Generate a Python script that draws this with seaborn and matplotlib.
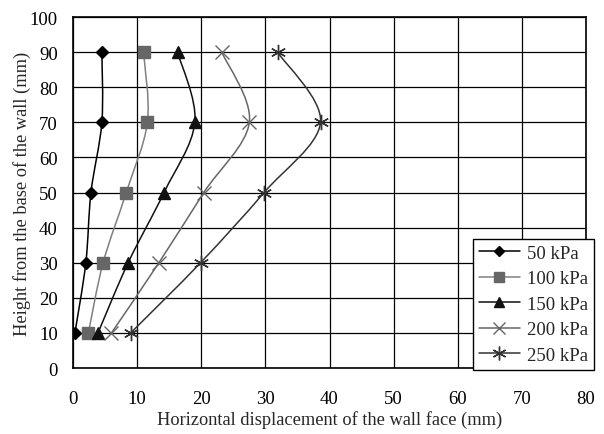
import numpy as np
import pandas as pd
import matplotlib
matplotlib.use("Agg")
import matplotlib.pyplot as plt
from matplotlib.path import Path
from matplotlib.patches import PathPatch
import seaborn as sns

heights = [10, 30, 50, 70, 90]
disp_50 = [0.3, 2.0, 2.8, 4.5, 4.5]
disp_100 = [2.4, 4.7, 8.3, 11.6, 11.0]
disp_150 = [3.9, 8.6, 14.2, 19.0, 16.3]
disp_200 = [6.0, 13.4, 20.4, 27.5, 23.2]
disp_250 = [9.0, 19.9, 29.8, 38.6, 31.9]
labels = ["50 kPa", "100 kPa", "150 kPa", "200 kPa", "250 kPa"]

rows = []
for lab, vals in zip(labels, [disp_50, disp_100, disp_150, disp_200, disp_250]):
    for h, d in zip(heights, vals):
        rows.append({"load": lab, "disp": d, "height": h})
df = pd.DataFrame(rows)

sns.set_theme(style="white")
plt.rcParams["font.family"] = ["Liberation Serif", "DejaVu Serif"]

line_colors = {"50 kPa": "#000000", "100 kPa": "#808080", "150 kPa": "#111111",
               "200 kPa": "#666666", "250 kPa": "#333333"}
marker_colors = {"50 kPa": "#000000", "100 kPa": "#666666", "150 kPa": "#111111",
                 "200 kPa": "#666666", "250 kPa": "#333333"}
markers = {"50 kPa": "D", "100 kPa": "s", "150 kPa": "^", "200 kPa": "x", "250 kPa": (6, 2, 0)}
msizes = {"50 kPa": 6, "100 kPa": 8, "150 kPa": 8, "200 kPa": 10, "250 kPa": 11}

fig = plt.figure(figsize=(6.04, 4.35), dpi=100)
ax = fig.add_axes([73/604, 1-369/435, (586-73)/604, (369-18)/435])


def smooth_path(xs, ys):
    pts = np.column_stack([xs, ys]).astype(float)
    n = len(pts)
    verts = [pts[0]]
    codes = [Path.MOVETO]
    for i in range(n - 1):
        p0 = pts[i - 1] if i > 0 else pts[i]
        p1 = pts[i]
        p2 = pts[i + 1]
        p3 = pts[i + 2] if i + 2 < n else pts[i + 1]
        c1 = p1 + (p2 - p0) / 6.0
        c2 = p2 - (p3 - p1) / 6.0
        verts += [c1, c2, p2]
        codes += [Path.CURVE4] * 3
    return Path(verts, codes)


handles = []
for lab in labels:
    sub = df[df["load"] == lab]
    patch = PathPatch(smooth_path(sub["disp"].values, sub["height"].values),
                      facecolor="none", edgecolor=line_colors[lab], lw=1.1, zorder=3)
    ax.add_patch(patch)
    mk = markers[lab]
    sns.lineplot(data=sub, x="disp", y="height", ax=ax, sort=False, estimator=None,
                 linestyle="none", marker=mk, markersize=msizes[lab],
                 color=marker_colors[lab], markeredgecolor=marker_colors[lab],
                 markeredgewidth=1.0, zorder=4, legend=False)
    handles.append(plt.Line2D([], [], color=line_colors[lab], lw=1.1, marker=mk,
                              markersize=msizes[lab] * 0.9, markerfacecolor=marker_colors[lab],
                              markeredgecolor=marker_colors[lab], label=lab))

ax.set_xlim(0, 80)
ax.set_ylim(0, 100)
ax.set_xticks(range(0, 81, 10))
ax.set_yticks(range(0, 101, 10))
ax.grid(True, color="black", lw=0.9)
ax.set_axisbelow(True)
for s in ax.spines.values():
    s.set_color("black")
    s.set_linewidth(1.2)
ax.tick_params(direction="in", length=5, width=1, colors="black", labelsize=13.5)
ax.tick_params(axis="y", pad=11)
ax.tick_params(axis="x", pad=16)
ax.set_xlabel("Horizontal displacement of the wall face (mm)", fontsize=13.2, labelpad=2)
ax.set_ylabel("Height from the base of the wall (mm)", fontsize=13.2, labelpad=-1)

leg = fig.legend(handles=handles, loc="upper left",
                 bbox_to_anchor=(473/604, 1-240/435), frameon=True, fancybox=False,
                 edgecolor="black", framealpha=1, fontsize=13.5, handlelength=2.2,
                 handletextpad=0.4, borderpad=0.3, labelspacing=0.45, borderaxespad=0)
leg.get_frame().set_linewidth(1.0)

fig.savefig("out.png", dpi=100)
